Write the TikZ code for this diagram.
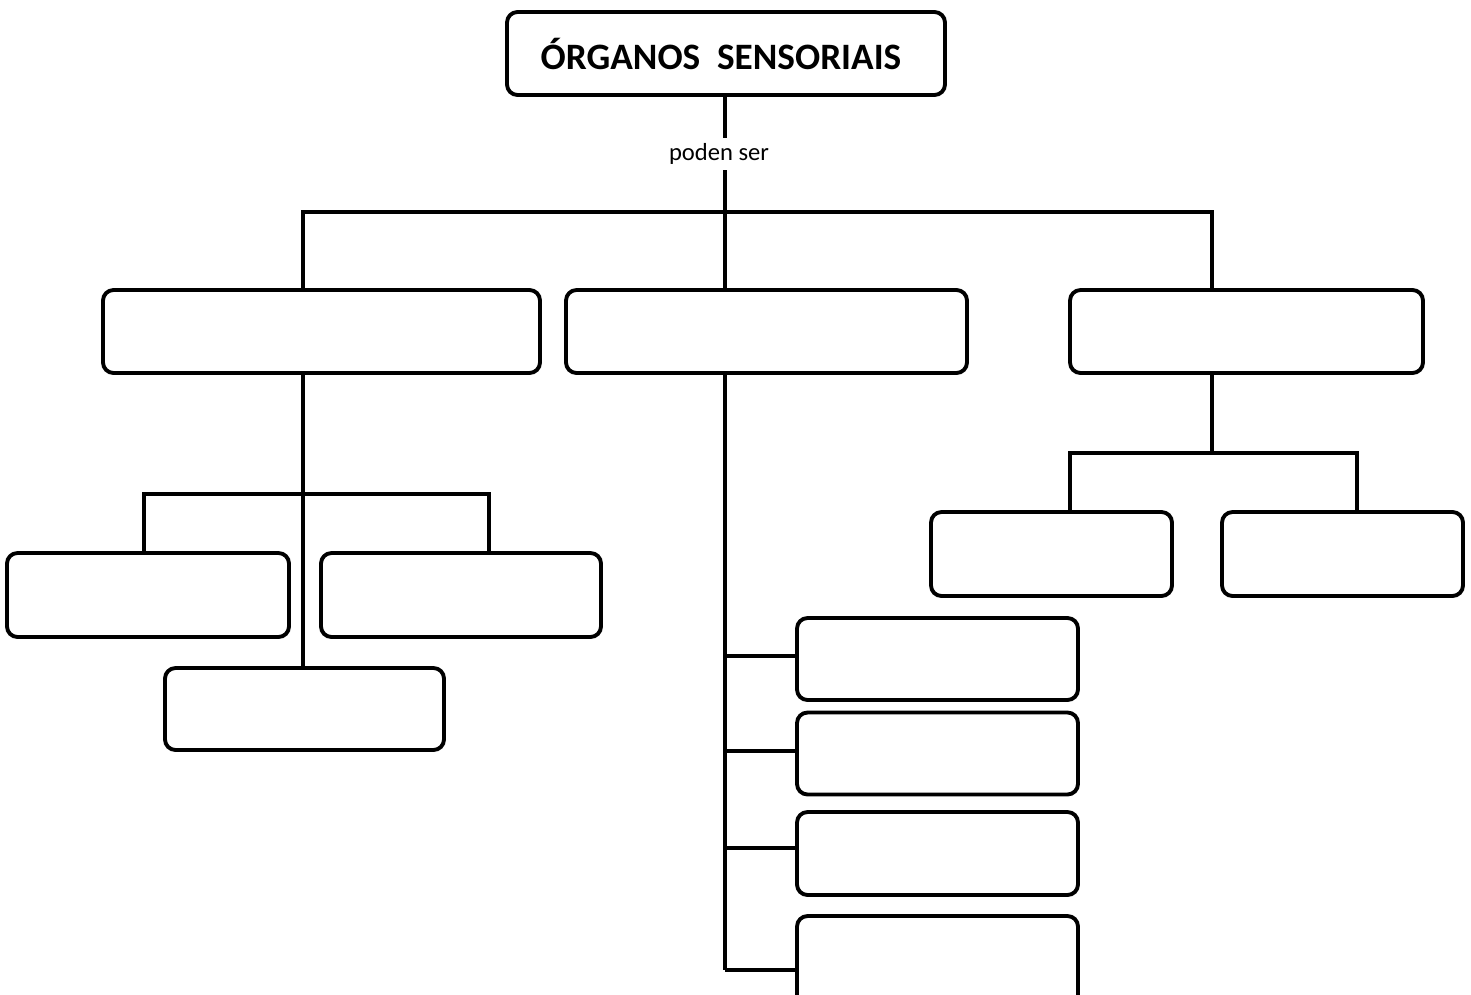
\documentclass[tikz,border=0pt]{standalone}
\usepackage{fontspec}
\setmainfont{Carlito}
\usetikzlibrary{positioning}

\begin{document}
\begin{tikzpicture}[
    blank/.style={draw=black, line width=2.2pt, rounded corners=6pt, inner sep=0pt, minimum height=1.66cm},
    link/.style={draw=black, line width=2.2pt}
]
\useasboundingbox (0,0) rectangle (29.42,-19.88);

% root and label
\node[blank, minimum width=8.76cm, font=\fontsize{21.2}{25}\selectfont\bfseries] (root) at (14.52,-1.07) {ÓRGANOS\ \ SENSORIAIS\hspace*{0.2cm}};
\node[font=\fontsize{14}{17}\selectfont, inner xsep=1pt, inner ysep=3pt] (lbl) at (14.38,-3.08) {poden ser};

% first level
\node[blank, minimum width=8.74cm] (A) at (6.43,-6.63) {};
\node[blank, minimum width=8.02cm] (B) at (15.33,-6.63) {};
\node[blank, minimum width=7.06cm] (C) at (24.93,-6.63) {};

% left branch
\node[blank, minimum width=5.64cm, minimum height=1.68cm] (L1) at (2.96,-11.9) {};
\node[blank, minimum width=5.6cm, minimum height=1.68cm] (L2) at (9.22,-11.9) {};
\node[blank, minimum width=5.58cm, minimum height=1.64cm] (L3) at (6.09,-14.18) {};

% middle branch
\node[blank, minimum width=5.62cm, minimum height=1.64cm] (M1) at (18.75,-13.18) {};
\node[blank, minimum width=5.62cm, minimum height=1.64cm] (M2) at (18.75,-15.07) {};
\node[blank, minimum width=5.62cm] (M3) at (18.75,-17.07) {};
\node[blank, minimum width=5.62cm, minimum height=2.16cm] (M4) at (18.75,-19.4) {};

% right branch
\node[blank, minimum width=4.82cm, minimum height=1.68cm] (R1) at (21.03,-11.08) {};
\node[blank, minimum width=4.82cm, minimum height=1.68cm] (R2) at (26.85,-11.08) {};

% junctions
\coordinate (jA) at (6.06,-4.24);
\coordinate (jB) at (14.5,-4.24);
\coordinate (jC) at (24.24,-4.24);
\coordinate (kL) at (2.88,-9.88);
\coordinate (kR) at (9.78,-9.88);
\coordinate (qL) at (21.4,-9.06);
\coordinate (qR) at (27.14,-9.06);
\coordinate (hC) at (24.24,-9.06);
\coordinate (t1) at (14.5,-13.12);
\coordinate (t2) at (14.5,-15.02);
\coordinate (t3) at (14.5,-16.96);
\coordinate (t4) at (14.5,-19.4);

% connectors
\draw[link] (root.south -| jB) -- (lbl.north -| jB);
\draw[link] (lbl.south -| jB) -- (B.north -| jB);
\draw[link] (jA |- A.north) -- (jA) -- (jC) -- (jC |- C.north);

\draw[link] (A.south -| jA) -- (L3.north -| jA);
\draw[link] (kL |- L1.north) -- (kL) -- (kR) -- (kR |- L2.north);

\draw[link] (B.south -| jB) -- (t4);
\foreach \i in {1,...,4}
    \draw[link] (t\i) -- (t\i -| M\i.west);

\draw[link] (C.south -| jC) -- (hC);
\draw[link] (qL |- R1.north) -- (qL) -- (qR) -- (qR |- R2.north);
\end{tikzpicture}
\end{document}
